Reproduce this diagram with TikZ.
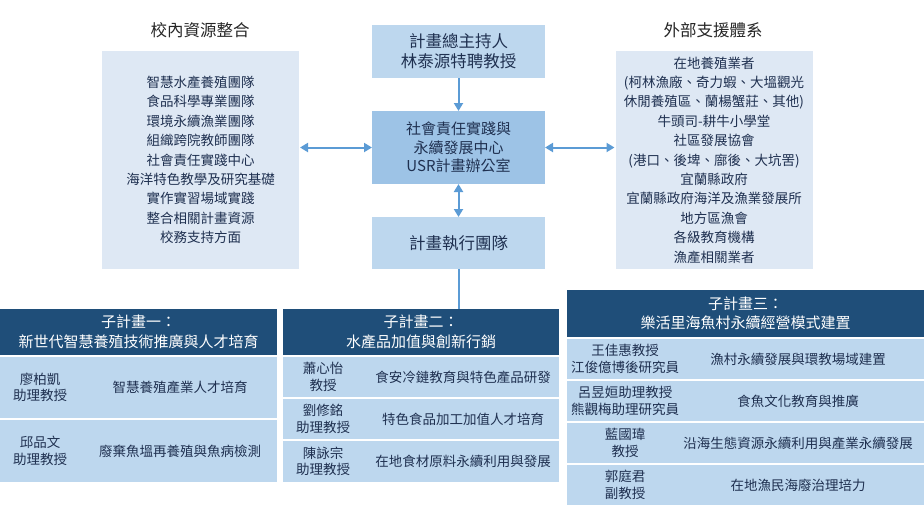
\documentclass[tikz,border=0pt]{standalone}
\usepackage{fontspec}
\setmainfont{Noto Sans CJK TC}
\usetikzlibrary{positioning,arrows.meta}
\definecolor{sidefill}{HTML}{DEE8F4}
\definecolor{mainfill}{HTML}{BDD7EE}
\definecolor{hubfill}{HTML}{9DC3E6}
\definecolor{navy}{HTML}{1F4E79}
\definecolor{rowfill}{HTML}{BDD7EE}
\definecolor{inktext}{HTML}{1F3050}
\definecolor{arrowblue}{HTML}{5B9BD5}

\begin{document}
\begin{tikzpicture}[
    x=1pt, y=-1pt,
    node distance=33pt,
    title/.style={font=\fontsize{16.5}{20}\selectfont, text=black!85},
    sidebox/.style={fill=sidefill, inner sep=0pt, outer sep=0pt,
                    minimum width=197pt, minimum height=218pt, align=center,
                    text=inktext, font=\fontsize{13.5}{19.4}\selectfont},
    mainbox/.style={fill=mainfill, inner sep=0pt, outer sep=0pt,
                    minimum width=173pt, align=center, text=inktext,
                    font=\fontsize{16.5}{20}\selectfont},
    hdr/.style={fill=navy, text=white, inner sep=0pt, outer sep=0pt,
                align=center, font=\fontsize{15}{19.5}\selectfont},
    cell/.style={fill=rowfill, inner sep=0pt, outer sep=0pt},
    person/.style={text=inktext, align=center, font=\fontsize{13.5}{16.5}\selectfont},
    task/.style={text=inktext, align=center, font=\fontsize{13.5}{16.5}\selectfont},
    arr/.style={draw=arrowblue, line width=2pt, -{Triangle[length=8pt,width=9pt]}},
    dbl/.style={draw=arrowblue, line width=2pt,
                {Triangle[length=8pt,width=9pt]}-{Triangle[length=8pt,width=9pt]}},
    link/.style={draw=arrowblue, line width=2pt}
]
    \useasboundingbox (0,0) rectangle (924,520);

    % centre column
    \node [mainbox, minimum height=53pt] (lead) at (458.5,51.5) {計畫總主持人\\林泰源特聘教授};
    \node [mainbox, fill=hubfill, minimum height=73pt, below=of lead,
           font=\fontsize{15}{18.5}\selectfont] (hub) {社會責任實踐與\\永續發展中心\\USR計畫辦公室};
    \node [mainbox, minimum height=52pt, below=of hub] (team) {計畫執行團隊};

    % side boxes
    \node [title] (intitle) at (200,30) {校內資源整合};
    \node [sidebox] (intern) at (200.5,160) {智慧水產養殖團隊\\食品科學專業團隊\\環境永續漁業團隊\\組織跨院教師團隊\\社會責任實踐中心\\海洋特色教學及研究基礎\\實作實習場域實踐\\整合相關計畫資源\\校務支持方面};
    \node [title] (extitle) at (713,30) {外部支援體系};
    \node [sidebox] (extern) at (714,160) {在地養殖業者\\(柯林漁廠、奇力蝦、大塭觀光\\休閒養殖區、蘭楊蟹莊、其他)\\牛頭司-耕牛小學堂\\社區發展協會\\(港口、後埤、廍後、大坑罟)\\宜蘭縣政府\\宜蘭縣政府海洋及漁業發展所\\地方區漁會\\各級教育機構\\漁產相關業者};

    % sub-project 1
    \node [hdr, minimum width=277pt, minimum height=46pt] (sub1) at (138.5,332) {子計畫一：\\新世代智慧養殖技術推廣與人才培育};
    \node [cell, minimum width=277pt, minimum height=61pt, below=2pt of sub1] (sub1a) {};
    \node [cell, minimum width=277pt, minimum height=62pt, below=2pt of sub1a] (sub1b) {};
    \node [person] (p1a) at ([xshift=40pt]sub1a.west) {廖柏凱\\助理教授};
    \node [task]   (t1a) at ([xshift=180pt]sub1a.west) {智慧養殖產業人才培育};
    \node [person] (p1b) at ([xshift=40pt]sub1b.west) {邱品文\\助理教授};
    \node [task]   (t1b) at ([xshift=180pt]sub1b.west) {廢棄魚塭再養殖與魚病檢測};

    % sub-project 2
    \node [hdr, minimum width=276pt, minimum height=46pt] (sub2) at (421,332) {子計畫二：\\水產品加值與創新行銷};
    \node [cell, minimum width=276pt, minimum height=40pt, below=2pt of sub2] (sub2a) {};
    \node [cell, minimum width=276pt, minimum height=40pt, below=2pt of sub2a] (sub2b) {};
    \node [cell, minimum width=276pt, minimum height=41pt, below=2pt of sub2b] (sub2c) {};
    \node [person] (p2a) at ([xshift=40pt]sub2a.west) {蕭心怡\\教授};
    \node [task]   (t2a) at ([xshift=180pt]sub2a.west) {食安冷鏈教育與特色產品研發};
    \node [person] (p2b) at ([xshift=40pt]sub2b.west) {劉修銘\\助理教授};
    \node [task]   (t2b) at ([xshift=180pt]sub2b.west) {特色食品加工加值人才培育};
    \node [person] (p2c) at ([xshift=40pt]sub2c.west) {陳詠宗\\助理教授};
    \node [task]   (t2c) at ([xshift=180pt]sub2c.west) {在地食材原料永續利用與發展};

    % sub-project 3
    \node [hdr, minimum width=357pt, minimum height=47pt] (sub3) at (745.5,313.5) {子計畫三：\\樂活里海魚村永續經營模式建置};
    \node [cell, minimum width=357pt, minimum height=40pt, below=2pt of sub3] (sub3a) {};
    \node [cell, minimum width=357pt, minimum height=40pt, below=2pt of sub3a] (sub3b) {};
    \node [cell, minimum width=357pt, minimum height=40pt, below=2pt of sub3b] (sub3c) {};
    \node [cell, minimum width=357pt, minimum height=40pt, below=2pt of sub3c] (sub3d) {};
    \node [person] (p3a) at ([xshift=58pt]sub3a.west) {王佳惠教授\\江俊億博後研究員};
    \node [task]   (t3a) at ([xshift=231pt]sub3a.west) {漁村永續發展與環教場域建置};
    \node [person] (p3b) at ([xshift=58pt]sub3b.west) {呂昱姮助理教授\\熊觀梅助理研究員};
    \node [task]   (t3b) at ([xshift=231pt]sub3b.west) {食魚文化教育與推廣};
    \node [person] (p3c) at ([xshift=58pt]sub3c.west) {藍國瑋\\教授};
    \node [task]   (t3c) at ([xshift=231pt]sub3c.west) {沿海生態資源永續利用與產業永續發展};
    \node [person] (p3d) at ([xshift=58pt]sub3d.west) {郭庭君\\副教授};
    \node [task]   (t3d) at ([xshift=231pt]sub3d.west) {在地漁民海廢治理培力};

    % connectors
    \path [arr] (lead) -- (hub);
    \path [dbl] (hub) -- (team);
    \path [dbl, shorten <=1pt] (intern.east |- hub.west) -- (hub.west);
    \path [dbl, shorten >=1pt] (hub.east) -- (extern.west |- hub.east);
    \path [link] (team.south) -- (team.south |- sub2.north);
\end{tikzpicture}
\end{document}
